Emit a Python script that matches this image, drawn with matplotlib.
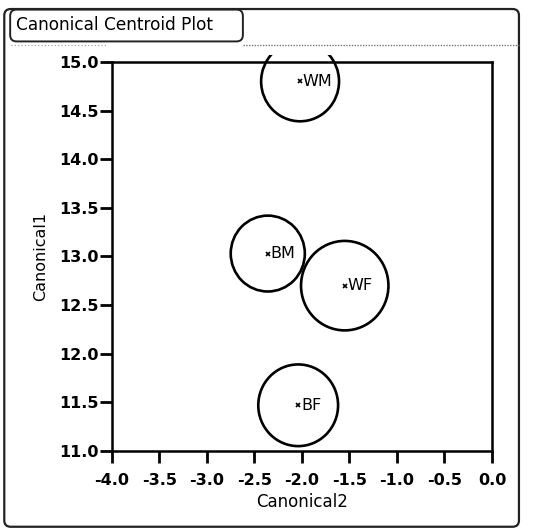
#canonical centroid plot, ricostruito da output JMP

import numpy as np
import matplotlib.pyplot as plt
from matplotlib.patches import Circle, FancyBboxPatch, Rectangle
from matplotlib.lines import Line2D

groups = ['WM', 'BM', 'WF', 'BF']
can2 = [-2.02, -2.36, -1.55, -2.04]
can1 = [14.80, 13.03, 12.70, 11.47]
radius = [0.41, 0.39, 0.46, 0.42]

xticks = np.arange(-4.0, 0.01, 0.5)
yticks = np.arange(11.0, 15.01, 0.5)

plt.rcParams['font.family'] = 'DejaVu Sans'
plt.rcParams['font.weight'] = 'bold'

fig = plt.figure(figsize=(5.35, 5.31), dpi=100)
fig.patch.set_facecolor('white')

# cornice esterna
fig.patches.append(FancyBboxPatch((0.008, 0.008), 0.962, 0.975, boxstyle='round,pad=0,rounding_size=0.012',
                                  transform=fig.transFigure, fill=False, lw=1.6, ec='#222222'))
# box del titolo
fig.patches.append(FancyBboxPatch((0.019, 0.922), 0.435, 0.06, boxstyle='round,pad=0,rounding_size=0.012',
                                  transform=fig.transFigure, fill=False, lw=1.4, ec='#222222'))
fig.text(0.03, 0.952, 'Canonical Centroid Plot', fontsize=12.2, va='center', ha='left', weight='normal')
fig.lines.append(Line2D([0.454, 0.97], [0.915, 0.915], transform=fig.transFigure, color='#777777',
                        lw=1.0, ls=(0, (1, 1))))
fig.lines.append(Line2D([0.02, 0.2], [0.915, 0.915], transform=fig.transFigure, color='#999999',
                        lw=0.8, ls=(0, (1, 2))))

ax = fig.add_axes([0.2093, 0.1507, 0.7103, 0.7326])
clip = Rectangle((0, 0), 1, 1.018, transform=ax.transAxes, fill=False, visible=False)
ax.add_patch(clip)
for g, x, y, r in zip(groups, can2, can1, radius):
    c = Circle((x, y), r, fill=False, lw=1.9, ec='black')
    ax.add_patch(c)
    c.set_clip_path(clip)
    ax.plot(x, y, marker='x', ms=3, mew=1.2, color='black')
    ax.text(x + 0.03, y, g, fontsize=11.5, va='center', ha='left', weight='normal')

ax.set_xlim(-4.0, 0.0)
ax.set_ylim(11.0, 15.0)
ax.set_xticks(xticks)
ax.set_yticks(yticks)
ax.set_xticklabels(['%.1f' % v for v in xticks])
ax.set_yticklabels(['%.1f' % v for v in yticks])
ax.tick_params(direction='out', length=8.6, width=2, labelsize=11.5)
ax.tick_params(axis='x', pad=7)
ax.tick_params(axis='y', pad=1)
for s in ax.spines.values():
    s.set_linewidth(1.8)
ax.set_xlabel('Canonical2', fontsize=12, weight='normal', labelpad=4)
ax.set_ylabel('Canonical1', fontsize=11.5, weight='normal', labelpad=8)

plt.savefig('out.png', dpi=100)
plt.close()
